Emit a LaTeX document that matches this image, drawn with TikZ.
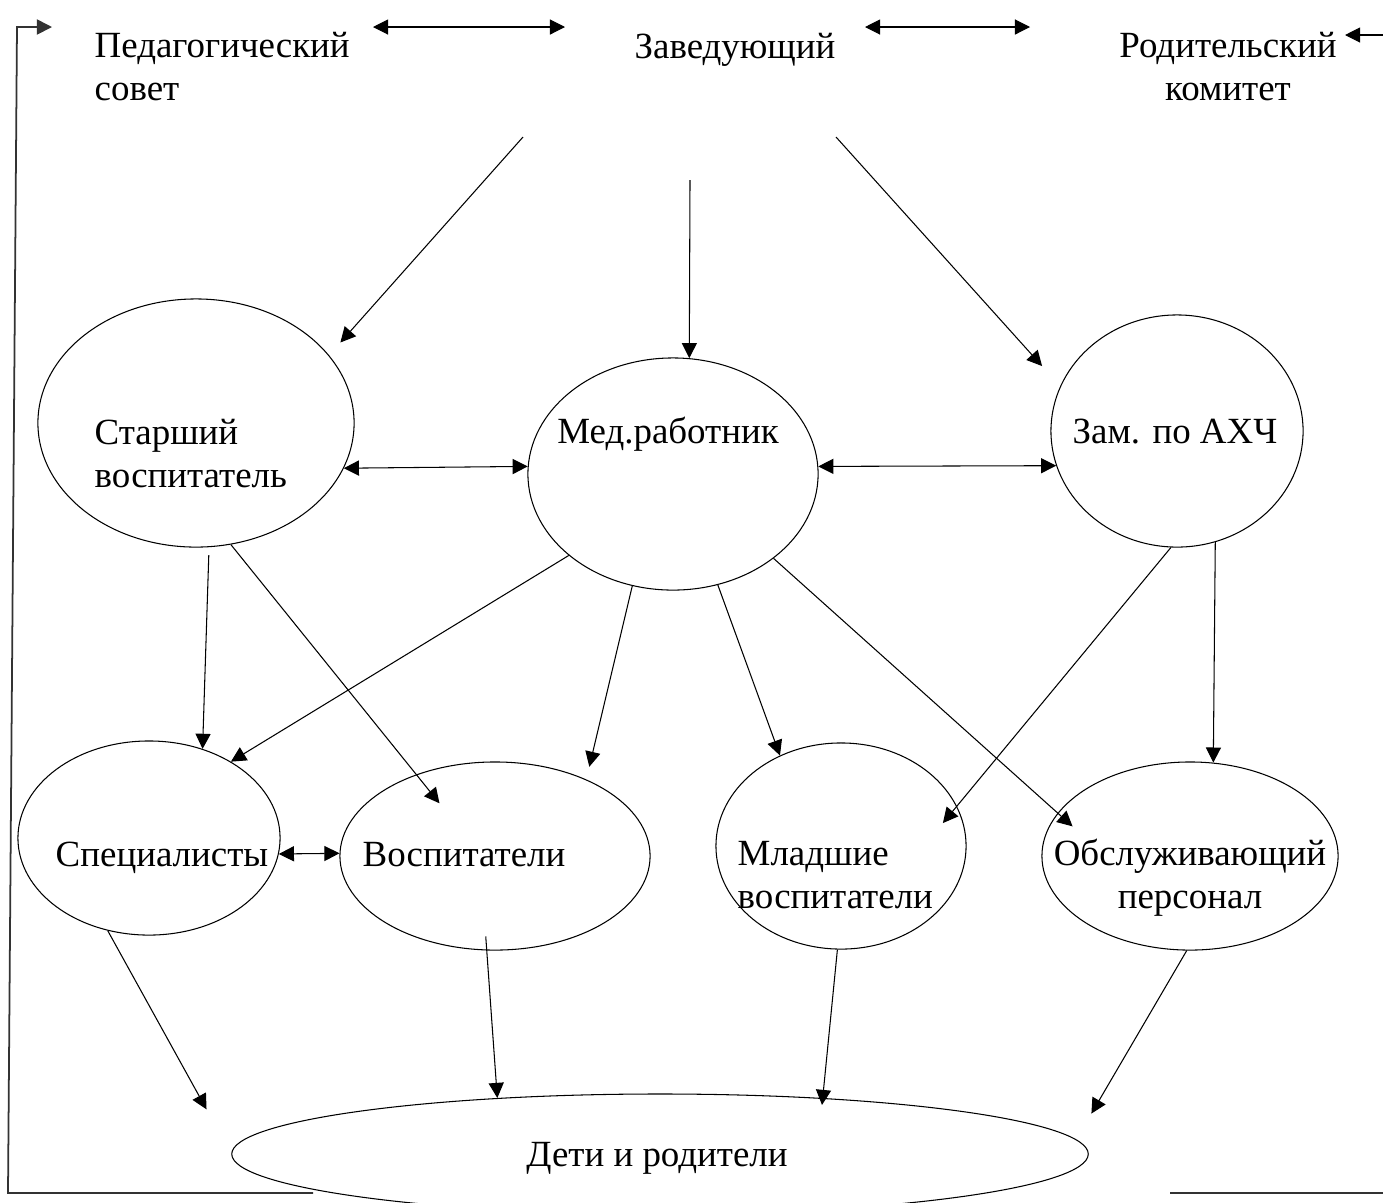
\documentclass[tikz,border=0pt]{standalone}
\usepackage{fontspec}
\setmainfont{Liberation Serif}
\usetikzlibrary{shapes.geometric, arrows.meta, positioning}

\begin{document}
\begin{tikzpicture}[x=0.01cm, y=-0.01cm,
    every node/.style={font=\fontsize{10.5}{12}\selectfont},
    >={Triangle[length=4.3pt, width=4.3pt]},
    oval/.style={ellipse, draw=black, line width=0.3pt, inner sep=0pt},
    txt/.style={inner sep=0pt},
    line/.style={draw, ->, line width=0.3pt},
    dline/.style={draw, <->, line width=0.3pt},
    frame/.style={draw=black!80, line width=0.5pt}]

\useasboundingbox (0,0) rectangle (1383,1202);

% Top row
\node[txt, anchor=base west, align=left] (ped) at (94,100) {Педагогический\\совет};
\node[txt, anchor=base] (zav) at (735,58) {Заведующий};
\node[txt, anchor=base, align=center] (rod) at (1228,100) {Родительский\\комитет};

% Middle row
\node[oval, minimum width=3.16cm, minimum height=2.48cm] (stv) at (196,423) {};
\node[txt, anchor=base west, align=left] (stvtxt) at (94,487) {Старший\\воспитатель};
\node[oval, minimum width=2.90cm, minimum height=2.32cm] (med) at (673,474) {};
\node[txt, anchor=base] (medtxt) at (668,443) {Мед.работник};
\node[oval, minimum width=2.52cm, minimum height=2.32cm] (zam) at (1177,431) {};
\node[txt, anchor=base west] (zamtxt) at (1072,443) {Зам. по АХЧ};

% Bottom row
\node[oval, minimum width=2.62cm, minimum height=1.94cm] (spec) at (149,838) {};
\node[txt, anchor=base] (spectxt) at (162,866) {Специалисты};
\node[oval, minimum width=3.10cm, minimum height=1.88cm] (vosp) at (495,856) {};
\node[txt, anchor=base] (vosptxt) at (464,866) {Воспитатели};
\node[oval, minimum width=2.50cm, minimum height=2.06cm] (mlad) at (841,846) {};
\node[txt, anchor=base west, align=left] (mladtxt) at (737,908) {Младшие\\воспитатели};
\node[oval, minimum width=2.96cm, minimum height=1.88cm] (obs) at (1190,856) {};
\node[txt, anchor=base, align=center] (obstxt) at (1190,908) {Обслуживающий\\персонал};

% Children and parents
\node[oval, minimum width=8.56cm, minimum height=1.20cm] (deti) at (660,1154) {};
\node[txt, anchor=base] (detitxt) at (657,1166) {Дети и родители};

% Free ends
\coordinate (pz1) at (373,27);
\coordinate (pz2) at (565,27);
\coordinate (zr1) at (865,27);
\coordinate (zr2) at (1030,27);
\coordinate (zavL) at (523,137);
\coordinate (zavM) at (690,180);
\coordinate (zavR) at (836,137);
\coordinate (bl1) at (313,1193);
\coordinate (bl2) at (8,1193);
\coordinate (bl3) at (17,27);
\coordinate (pedin) at (52,27);
\coordinate (br1) at (1383,1193);
\coordinate (br2) at (1170,1193);
\coordinate (rodout) at (1383,35);
\coordinate (rodin) at (1345,35);

% Paths
\draw[dline] (pz1) -- (pz2);
\draw[dline] (zr1) -- (zr2);
\draw[line, shorten >=0.17cm] (zavL) -- (stv.27);
\draw[line] (zavM) -- (med.82);
\draw[line, shorten >=0.27cm] (zavR) -- (zam.159);
\draw[dline] (stv.-17) -- (med.177);
\draw[dline] (med.3) -- (zam.196);
\draw[line, shorten <=0.08cm] (stv.-84) -- (spec.59);
\draw[line, shorten >=-0.37cm] (stv.-74) -- (vosp.134);
\draw[line] (med.218) -- (spec.43);
\draw[line, shorten >=0.13cm] (med.-110) -- (vosp.40);
\draw[line] (med.-68) -- (mlad.124);
\draw[line, shorten >=-0.2cm] (med.-40) -- (obs.162);
\draw[line, shorten >=-0.22cm] (zam.-93) -- (mlad.19);
\draw[line] (zam.-71) -- (obs.76);
\draw[dline] (spec.-7) -- (vosp.179);
\draw[line, shorten >=0.51cm] (spec.-114) -- (deti.west);
\draw[line, shorten <=-0.14cm] (vosp.-95) -- (deti.161);
\draw[line, shorten >=-0.07cm] (mlad.-92) -- (deti.19);
\draw[line, shorten >=0.3cm] (obs.-92) -- (deti.2);
\draw[frame, ->] (bl1) -- (bl2) -- (bl3) -- (pedin);
\draw[frame] (br1) -- (br2);
\draw[line] (rodout) -- (rodin);

\end{tikzpicture}
\end{document}
